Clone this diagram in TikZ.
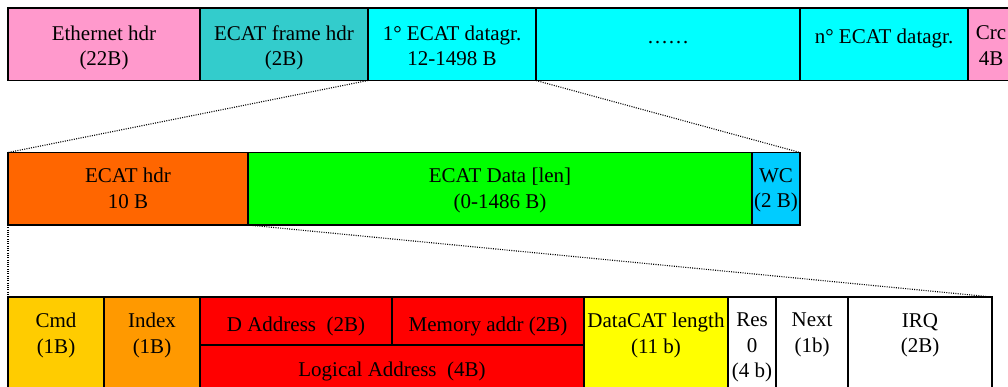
\documentclass[tikz,border=0pt]{standalone}
\usepackage{fontspec}
\setmainfont{Liberation Serif}
\definecolor{ethpink}{HTML}{FF99CC}
\definecolor{frameteal}{HTML}{33CCCC}
\definecolor{dgcyan}{HTML}{00FFFF}
\definecolor{hdrorange}{HTML}{FF6600}
\definecolor{datagreen}{HTML}{00FF00}
\definecolor{wcblue}{HTML}{00CCFF}
\definecolor{cmdgold}{HTML}{FFCC00}
\definecolor{idxorange}{HTML}{FF9900}
\definecolor{addrred}{HTML}{FF0000}
\definecolor{lenyellow}{HTML}{FFFF00}
\begin{document}
\begin{tikzpicture}[x=1pt,y=-1pt,
  cell/.style={draw=black, line width=1.6pt, rectangle, inner sep=0pt, outer sep=0pt},
  lbl/.style={anchor=north, inner sep=0pt, align=center,
    font=\fontsize{21}{25.5}\selectfont, execute at begin node=\strut},
  link/.style={line width=1.1pt, dash pattern=on 1pt off 1.3pt}]
\useasboundingbox (0,0) rectangle (1008,387);

% EtherCAT frame
\node[cell, fill=ethpink,   minimum width=192pt, minimum height=72.5pt] (eth)  at (104,44.25) {};
\node[cell, fill=frameteal, minimum width=168pt, minimum height=72.5pt] (efh)  at (284,44.25) {};
\node[cell, fill=dgcyan,    minimum width=168pt, minimum height=72.5pt] (dg1)  at (452,44.25) {};
\node[cell, fill=dgcyan,    minimum width=264pt, minimum height=72.5pt] (dgs)  at (668,44.25) {};
\node[cell, fill=dgcyan,    minimum width=168pt, minimum height=72.5pt] (dgn)  at (884,44.25) {};
\node[cell, fill=ethpink,   minimum width=46pt,  minimum height=72.5pt] (crc)  at (991,44.25) {};
\node[lbl] (eth-t) at ([yshift=-17.5pt]eth.north) {Ethernet hdr\\(22B)};
\node[lbl] (efh-t) at ([yshift=-17.5pt]efh.north) {ECAT frame hdr\\(2B)};
\node[lbl] (dg1-t) at ([yshift=-17.5pt]dg1.north) {1° ECAT datagr.\\12-1498 B};
\node[lbl] (dgs-t) at ([yshift=-17.5pt]dgs.north) {……};
\node[lbl] (dgn-t) at ([yshift=-17.5pt]dgn.north) {n° ECAT datagr.};
\node[lbl] (crc-t) at ([yshift=-17.5pt]crc.north) {Crc\\4B};

% One datagram
\node[cell, fill=hdrorange, minimum width=240pt, minimum height=72.5pt] (ehdr)  at (128,188.75) {};
\node[cell, fill=datagreen, minimum width=504pt, minimum height=72.5pt] (edata) at (500,188.75) {};
\node[cell, fill=wcblue,    minimum width=48pt,  minimum height=72.5pt] (wc)    at (776,188.75) {};
\node[lbl] (ehdr-t)  at ([yshift=-15.5pt]ehdr.north)  {ECAT hdr\\10 B};
\node[lbl] (edata-t) at ([yshift=-15.5pt]edata.north) {ECAT Data [len]\\(0-1486 B)};
\node[lbl] (wc-t)    at ([yshift=-15.5pt]wc.north)    {WC\\(2 B)};

% Datagram header fields
\node[cell, fill=cmdgold,   minimum width=96pt,  minimum height=123pt] (cmd)  at (56,358.5) {};
\node[cell, fill=idxorange, minimum width=96pt,  minimum height=123pt] (idx)  at (152,358.5) {};
\node[cell, fill=addrred,   minimum width=192pt, minimum height=48pt]  (dadr) at (296,321) {};
\node[cell, fill=addrred,   minimum width=192pt, minimum height=48pt]  (madr) at (488,321) {};
\node[cell, fill=addrred,   minimum width=384pt, minimum height=75pt]  (ladr) at (392,382.5) {};
\node[cell, fill=lenyellow, minimum width=144pt, minimum height=123pt] (dlen) at (656,358.5) {};
\node[cell, fill=white,     minimum width=48pt,  minimum height=123pt] (res)  at (752,358.5) {};
\node[cell, fill=white,     minimum width=72pt,  minimum height=123pt] (nxt)  at (812,358.5) {};
\node[cell, fill=white,     minimum width=144pt, minimum height=123pt] (irq)  at (920,358.5) {};
\node[lbl] (cmd-t)  at ([yshift=-16pt]cmd.north)  {Cmd\\(1B)};
\node[lbl] (idx-t)  at ([yshift=-16pt]idx.north)  {Index\\(1B)};
\node[lbl] (dadr-t) at ([yshift=-16pt]dadr.north) {D Address~~(2B)};
\node[lbl] (madr-t) at ([yshift=-16pt]madr.north) {Memory addr (2B)};
\node[lbl] (ladr-t) at ([yshift=-13.5pt]ladr.north) {Logical Address~~(4B)};
\node[lbl] (dlen-t) at ([yshift=-16pt]dlen.north) {DataCAT length\\(11 b)};
\node[lbl] (res-t)  at ([yshift=-16pt]res.north)  {Res\\0\\(4 b)};
\node[lbl] (nxt-t)  at ([yshift=-16pt]nxt.north)  {Next\\(1b)};
\node[lbl] (irq-t)  at ([yshift=-16pt]irq.north)  {IRQ\\(2B)};

% Zoom-in guides
\draw[link] (dg1.south west) -- (ehdr.north west);
\draw[link] (dg1.south east) -- (wc.north east);
\draw[link] (ehdr.south west) -- (cmd.north west);
\draw[link] (ehdr.south east) -- (irq.north east);
\end{tikzpicture}
\end{document}
